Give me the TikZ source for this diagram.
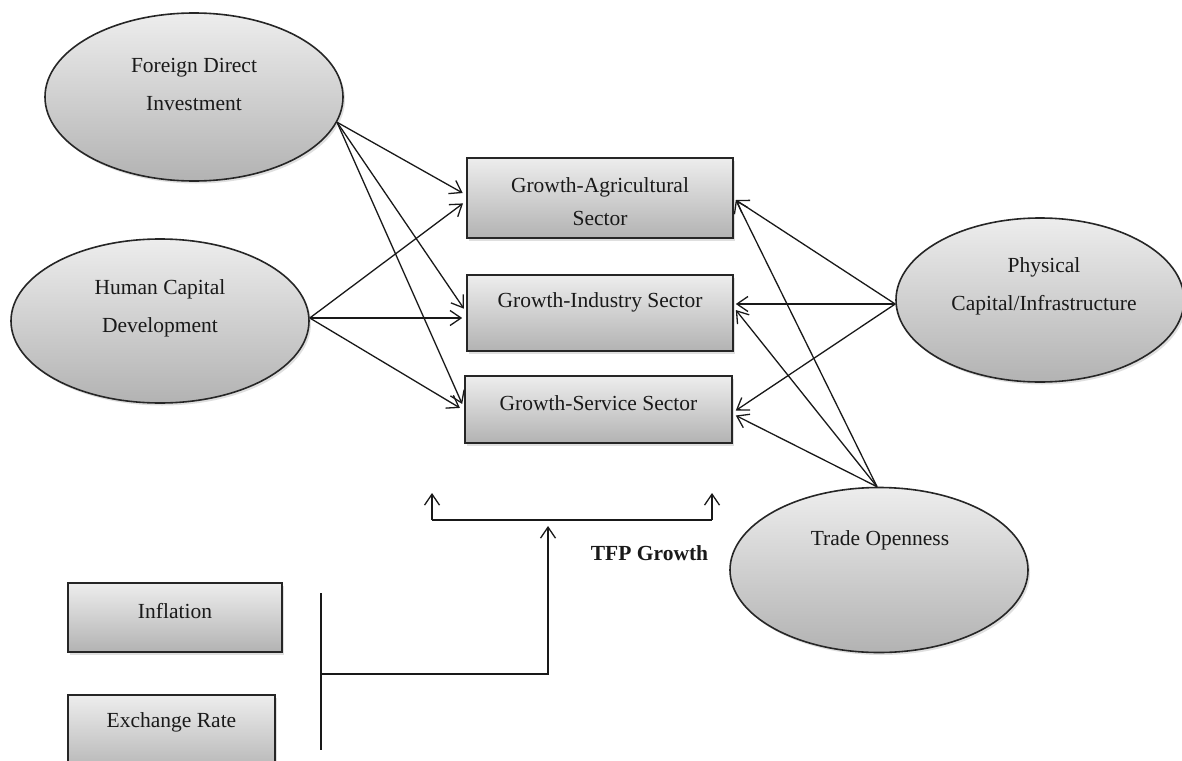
\documentclass[tikz,border=0pt]{standalone}
\usepackage{fontspec}
\setmainfont{Liberation Serif}
\usetikzlibrary{shapes.geometric,arrows.meta,shadows}
\begin{document}
\begin{tikzpicture}[x=1pt,y=-1pt,
  shapefill/.style={draw=black!85, line width=1.6pt, top color=black!7, bottom color=black!30,
    drop shadow={shadow xshift=2pt,shadow yshift=-2.5pt,opacity=0.25}},
  oval/.style={shapefill, ellipse, inner sep=0pt},
  sbox/.style={shapefill, rectangle, inner sep=0pt},
  lbl/.style={font=\fontsize{21.5}{38}\selectfont, align=center, inner sep=0pt, text=black!90},
  arr/.style={line width=1.3pt, draw=black!90, -{Straight Barb[length=11pt,width=15pt,line width=1.3pt]}},
  ln/.style={line width=1.3pt, draw=black!90}]
\clip (0,0) rectangle (1182,760);
\fill[white] (0,0) rectangle (1182,760);

% ellipses
\node[oval, minimum width=298pt, minimum height=168pt] (fdi) at (194,97) {};
\node[lbl] (fdit) at (194,84) {Foreign Direct\\Investment};
\node[oval, minimum width=298pt, minimum height=164pt] (hc) at (160,321) {};
\node[lbl] (hct) at (160,308) {Human Capital\\Development};
\node[oval, minimum width=288pt, minimum height=164pt] (phys) at (1040,300) {};
\node[lbl] (physt) at (1044,286.5) {Physical\\Capital/Infrastructure};
\node[oval, minimum width=298pt, minimum height=165pt] (trade) at (879,570) {};
\node[lbl] (tradet) at (880,540) {Trade Openness};

% boxes
\node[sbox, minimum width=266pt, minimum height=80pt] (agri) at (600,198) {};
\node[lbl, font=\fontsize{21.5}{33}\selectfont] (agrit) at (600,201.5) {Growth-Agricultural\\Sector};
\node[sbox, minimum width=266pt, minimum height=76pt] (ind) at (600,313) {};
\node[lbl] (indt) at (600,302) {Growth-Industry Sector};
\node[sbox, minimum width=267pt, minimum height=67pt] (serv) at (598.5,409.5) {};
\node[lbl] (servt) at (598.5,403) {Growth-Service Sector};
\node[sbox, minimum width=214pt, minimum height=69pt] (infl) at (175,617.5) {};
\node[lbl] (inflt) at (175,611) {Inflation};
\node[sbox, minimum width=207pt, minimum height=80pt] (exch) at (171.5,735) {};
\node[lbl] (excht) at (171.5,722) {Exchange Rate};
\node[lbl, font=\fontsize{21.5}{26}\selectfont\bfseries] (tfp) at (649.5,553) {TFP Growth};

% left arrows
\draw[arr, shorten >=4pt] (fdi.-10) -- ([yshift=3pt]agri.west);
\draw[arr, shorten >=4pt] (fdi.-10) -- ([yshift=1pt]ind.west);
\draw[arr, shorten >=5pt] (fdi.-10) -- ([yshift=1pt]serv.west);
\draw[arr, shorten >=4pt] ([yshift=3pt]hc.east) -- ([yshift=-3pt]agri.west);
\draw[arr, shorten >=4pt] ([yshift=3pt]hc.east) -- ([yshift=-5pt]ind.west);
\draw[arr, shorten >=5pt] ([yshift=3pt]hc.east) -- ([yshift=-1pt]serv.west);

% right arrows
\draw[arr] ([yshift=-4pt]phys.west) -- ([xshift=2pt,yshift=-2pt]agri.east);
\draw[arr] ([yshift=-4pt]phys.west) -- ([xshift=2pt,yshift=9pt]ind.east);
\draw[arr] ([yshift=-4pt]phys.west) -- ([xshift=3pt,yshift=-1pt]serv.east);
\draw[arr] ([xshift=-2pt]trade.north) -- ([xshift=2pt,yshift=-2pt]agri.east);
\draw[arr] ([xshift=-2pt]trade.north) -- ([xshift=2pt,yshift=3pt]ind.east);
\draw[arr] ([xshift=-2pt]trade.north) -- ([xshift=3pt,yshift=-6pt]serv.east);

% TFP structure
\coordinate (tl) at (432,520);
\coordinate (tr) at (712,520);
\coordinate (tlt) at (432,493);
\coordinate (trt) at (712,493);
\coordinate (tm) at (548,526);
\coordinate (tj) at (548,674);
\coordinate (bj) at (321,674);
\coordinate (bt) at (321,593);
\coordinate (bb) at (321,750);
\draw[ln] (tl) -- (tr);
\draw[arr] (tl) -- (tlt);
\draw[arr] (tr) -- (trt);
\draw[arr] (bj) -- (tj) -- (tm);
\draw[ln] (bt) -- (bb);
\end{tikzpicture}
\end{document}
